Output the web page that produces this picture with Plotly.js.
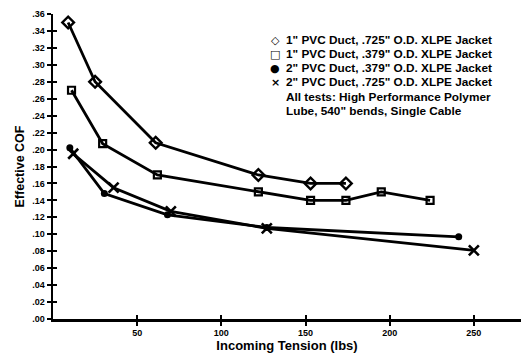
<!DOCTYPE html>
<html>
<head>
<meta charset="utf-8">
<script src="https://cdn.plot.ly/plotly-3.0.1.min.js"></script>
<style>html,body{margin:0;padding:0;background:#fff;}#chart{width:525px;height:356px;}</style>
</head>
<body>
<div id="chart"></div>
<script>
// Series data
const seriesNames = [
  '1" PVC Duct, .725" O.D. XLPE Jacket',
  '1" PVC Duct, .379" O.D. XLPE Jacket',
  '2" PVC Duct, .379" O.D. XLPE Jacket',
  '2" PVC Duct, .725" O.D. XLPE Jacket'
];
const diamondX = [9, 25, 61, 122, 153, 174];
const diamondY = [0.350, 0.280, 0.208, 0.170, 0.160, 0.160];
const squareX = [11, 29.5, 62, 122, 153, 174, 195, 224];
const squareY = [0.270, 0.207, 0.170, 0.150, 0.140, 0.140, 0.150, 0.140];
const circleX = [10, 30.5, 68, 127, 241];
const circleY = [0.202, 0.148, 0.123, 0.108, 0.097];
const crossX = [12, 36, 70, 127, 250];
const crossY = [0.195, 0.155, 0.127, 0.107, 0.081];

const xTickVals = [50, 100, 150, 200, 250];
const xTickText = ['50', '100', '150', '200', '250'];
const yTickVals = [0, .02, .04, .06, .08, .10, .12, .14, .16, .18, .20, .22, .24, .26, .28, .30, .32, .34, .36];
const yTickText = ['.00', '.02', '.04', '.06', '.08', '.10', '.12', '.14', '.16', '.18', '.20', '.22', '.24', '.26', '.28', '.30', '.32', '.34', '.36'];

const legendSymbols = ['\u25C7', '\u25A1', '\u25CF', '\u00D7', '', ''];
const legendLines = seriesNames.concat(['All tests: High Performance Polymer', 'Lube, 540" bends, Single Cable']);

const FONT = 'Liberation Sans, Arial, sans-serif';
const line = {color: '#000', width: 2.8};

const traces = [
  {x: diamondX, y: diamondY, name: seriesNames[0], mode: 'lines+markers', line: line,
   marker: {symbol: 'diamond-open', size: 9, color: '#000', line: {width: 2.4, color: '#000'}}},
  {x: squareX, y: squareY, name: seriesNames[1], mode: 'lines+markers', line: line,
   marker: {symbol: 'square-open', size: 7, color: '#000', line: {width: 2.2, color: '#000'}}},
  {x: circleX, y: circleY, name: seriesNames[2], mode: 'lines+markers', line: line,
   marker: {symbol: 'circle', size: 7, color: '#000'}},
  {x: crossX, y: crossY, name: seriesNames[3], mode: 'lines+markers', line: line,
   marker: {symbol: 'x-thin-open', size: 10, color: '#000', line: {width: 2.6, color: '#000'}}},
  // invisible trace to drive the inner-tick overlay axes
  {x: [0], y: [0], xaxis: 'x2', yaxis: 'y2', mode: 'markers', marker: {opacity: 0}, hoverinfo: 'skip', showlegend: false}
];

const tickFont = {family: FONT, size: 9, color: '#000', weight: 'bold'};

// plot area: top 14px, height 305px, left 53px, width 468px
const pyFrac = p => (319 - p) / 305;
const pxFrac = p => (p - 53) / 468;
const rowCenters = [40, 54, 68, 82, 97, 111];
const annotations = [];
legendLines.forEach((t, i) => {
  if (legendSymbols[i]) {
    annotations.push({xref: 'paper', yref: 'paper', x: pxFrac(275), y: pyFrac(rowCenters[i]),
      xanchor: 'center', yanchor: 'middle', showarrow: false, text: legendSymbols[i],
      font: {family: 'DejaVu Sans', size: 11, color: '#000', weight: 'bold'}});
  }
  annotations.push({xref: 'paper', yref: 'paper', x: pxFrac(284), y: pyFrac(rowCenters[i]),
    xanchor: 'left', yanchor: 'middle', showarrow: false, text: t,
    font: {family: FONT, size: 11.8, color: '#000', weight: 'bold'}});
});

const layout = {
  width: 525, height: 356,
  margin: {l: 53, r: 4, t: 14, b: 37},
  paper_bgcolor: '#fff', plot_bgcolor: '#fff',
  showlegend: false,
  xaxis: {
    range: [0, 278], showgrid: false, zeroline: false,
    showline: true, linecolor: '#000', linewidth: 2.5,
    tickvals: xTickVals, ticktext: xTickText,
    ticks: 'outside', ticklen: 4, tickwidth: 2, tickcolor: '#000',
    tickfont: tickFont,
    title: {text: 'Incoming Tension (lbs)', font: {family: FONT, size: 13, color: '#000', weight: 'bold'}, standoff: 1}
  },
  yaxis: {
    range: [0, 0.36], showgrid: false, zeroline: false,
    showline: true, linecolor: '#000', linewidth: 2.5,
    tickvals: yTickVals, ticktext: yTickText,
    ticks: 'outside', ticklen: 4, tickwidth: 2, tickcolor: '#000',
    tickfont: tickFont,
    title: {text: 'Effective COF', font: {family: FONT, size: 12.5, color: '#000', weight: 'bold'}, standoff: 5}
  },
  xaxis2: {
    overlaying: 'x', matches: 'x', range: [0, 278], showgrid: false, zeroline: false, showline: false,
    tickvals: xTickVals, ticks: 'inside', ticklen: 4, tickwidth: 2, tickcolor: '#000', showticklabels: false
  },
  yaxis2: {
    overlaying: 'y', matches: 'y', range: [0, 0.36], showgrid: false, zeroline: false, showline: false,
    tickvals: yTickVals, ticks: 'inside', ticklen: 4, tickwidth: 2, tickcolor: '#000', showticklabels: false
  },
  annotations: annotations
};

Plotly.newPlot('chart', traces, layout, {displayModeBar: false, staticPlot: true});
</script>
</body>
</html>
